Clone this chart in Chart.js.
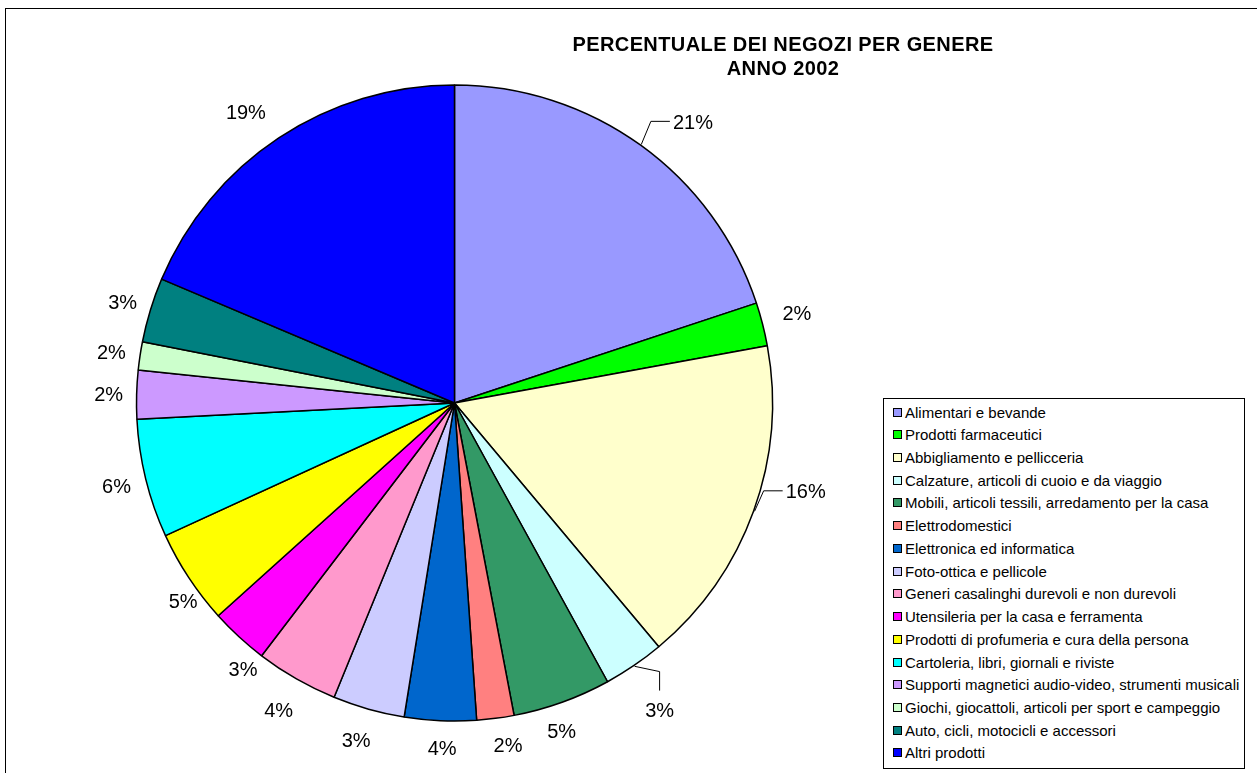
<!DOCTYPE html>
<html>
<head>
<meta charset="utf-8">
<script src="https://cdn.jsdelivr.net/npm/chart.js@4.4.1/dist/chart.umd.min.js"></script>
<style>
html,body{margin:0;padding:0;background:#fff;}
#wrap{position:relative;width:1257px;height:773px;overflow:hidden;font-family:"Liberation Sans",Arial,sans-serif;color:#000;}
#frame{position:absolute;left:5px;top:8px;width:1400px;height:900px;border-left:1.5px solid #000;border-top:1.5px solid #000;}
#chart{position:absolute;left:0;top:0;}
.tl{position:absolute;left:483px;width:600px;text-align:center;font-weight:bold;font-size:20px;line-height:20px;height:20px;letter-spacing:0.4px;white-space:nowrap;}
#legend{position:absolute;left:883px;top:398px;width:362px;height:371px;border:1px solid #000;box-sizing:border-box;background:#fff;}
.row{position:absolute;left:9px;height:22px;display:flex;align-items:center;font-size:15px;white-space:nowrap;}
.sw{width:7px;height:7px;border:1px solid #000;margin-right:3px;flex:none;}
</style>
</head>
<body>
<div id="wrap">
  <div id="frame"></div>
  <canvas id="chart" width="1257" height="773"></canvas>
  <div class="tl" id="t1" style="top:34px"></div>
  <div class="tl" id="t2" style="top:58px"></div>
  <div id="legend"></div>
</div>
<script>
// ---- data ----
const titleLines = ['PERCENTUALE DEI NEGOZI PER GENERE', 'ANNO 2002'];
const categories = [
  'Alimentari e bevande',
  'Prodotti farmaceutici',
  'Abbigliamento e pellicceria',
  'Calzature, articoli di cuoio e da viaggio',
  'Mobili, articoli tessili, arredamento per la casa',
  'Elettrodomestici',
  'Elettronica ed informatica',
  'Foto-ottica e pellicole',
  'Generi casalinghi durevoli e non durevoli',
  'Utensileria per la casa e ferramenta',
  'Prodotti di profumeria e cura della persona',
  'Cartoleria, libri, giornali e riviste',
  'Supporti magnetici audio-video, strumenti musicali',
  'Giochi, giocattoli, articoli per sport e campeggio',
  'Auto, cicli, motocicli e accessori',
  'Altri prodotti'
];
const shares = [19.91, 2.21, 16.77, 3.11, 4.99, 1.89, 3.64, 3.65, 4.19, 2.96, 4.82, 6.03, 2.47, 1.43, 3.28, 18.63];
const shareLabels = ['21%','2%','16%','3%','5%','2%','4%','3%','4%','3%','5%','6%','2%','2%','3%','19%'];
const sliceColors = ['#9999FF','#00FF00','#FFFFCC','#CCFFFF','#339966','#FF8080','#0066CC','#CCCCFF',
                     '#FF99CC','#FF00FF','#FFFF00','#00FFFF','#CC99FF','#CCFFCC','#008080','#0000FF'];

// ---- layout / style (not data) ----
const labelLayout = [ // [angle shift in degrees, gap outside the rim in px]
  [4.4,51],[-0.4,36],[-5.8,44],[0.6,51],[1.7,27],[-1.5,28],[-0.5,27],[0.6,33],
  [0,36],[-4.2,22],[-2.8,18],[0,30],[0,28],[0,29],[0,29],[-2.1,40]
];
const leaders = {0:'h', 2:'h', 3:'v'};

document.getElementById('t1').textContent = titleLines[0];
document.getElementById('t2').textContent = titleLines[1];

const legend = document.getElementById('legend');
categories.forEach((c, i) => {
  const r = document.createElement('div');
  r.className = 'row';
  r.style.top = (2 + i * 22.73) + 'px';
  const s = document.createElement('span');
  s.className = 'sw';
  s.style.background = sliceColors[i];
  const t = document.createElement('span');
  t.textContent = c;
  r.appendChild(s); r.appendChild(t);
  legend.appendChild(r);
});

const labelPlugin = {
  id: 'sliceLabels',
  afterDatasetsDraw(chart) {
    const ctx = chart.ctx;
    const arcs = chart.getDatasetMeta(0).data;
    const fontPx = 20;
    ctx.save();
    ctx.font = fontPx + 'px "Liberation Sans", Arial, sans-serif';
    ctx.fillStyle = '#000';
    ctx.strokeStyle = '#000';
    ctx.lineWidth = 1;
    ctx.textAlign = 'center';
    ctx.textBaseline = 'alphabetic';
    arcs.forEach((arc, i) => {
      const p = arc.getProps(['x','y','startAngle','endAngle','outerRadius'], true);
      const mid = (p.startAngle + p.endAngle) / 2;
      const a = mid + labelLayout[i][0] * Math.PI / 180;
      const rr = p.outerRadius + labelLayout[i][1];
      const cx = p.x + rr * Math.cos(a);
      const cy = p.y + rr * Math.sin(a);
      const txt = shareLabels[i];
      const w = ctx.measureText(txt).width;
      const cap = fontPx * 0.716;
      ctx.fillText(txt, cx, cy + cap / 2);
      const mode = leaders[i];
      if (mode) {
        const sx = p.x + (p.outerRadius + 1) * Math.cos(mid);
        const sy = p.y + (p.outerRadius + 1) * Math.sin(mid);
        ctx.beginPath();
        ctx.moveTo(sx, sy);
        if (mode === 'h') {
          const left = cx - w / 2;
          ctx.lineTo(left - 22, cy);
          ctx.lineTo(left - 3, cy);
        } else {
          const top = cy - cap / 2;
          ctx.lineTo(cx, top - 31);
          ctx.lineTo(cx, top - 12);
        }
        ctx.stroke();
      }
    });
    ctx.restore();
  }
};

new Chart(document.getElementById('chart'), {
  type: 'pie',
  data: {
    labels: categories,
    datasets: [{
      data: shares,
      backgroundColor: sliceColors,
      borderColor: '#000',
      borderWidth: 1.5,
      hoverOffset: 0,
      radius: 318
    }]
  },
  options: {
    responsive: false,
    animation: false,
    devicePixelRatio: 1,
    events: [],
    layout: { padding: { left: 0, right: 348, top: 33, bottom: 0 } },
    plugins: { legend: { display: false }, tooltip: { enabled: false }, title: { display: false } }
  },
  plugins: [labelPlugin]
});
</script>
</body>
</html>
